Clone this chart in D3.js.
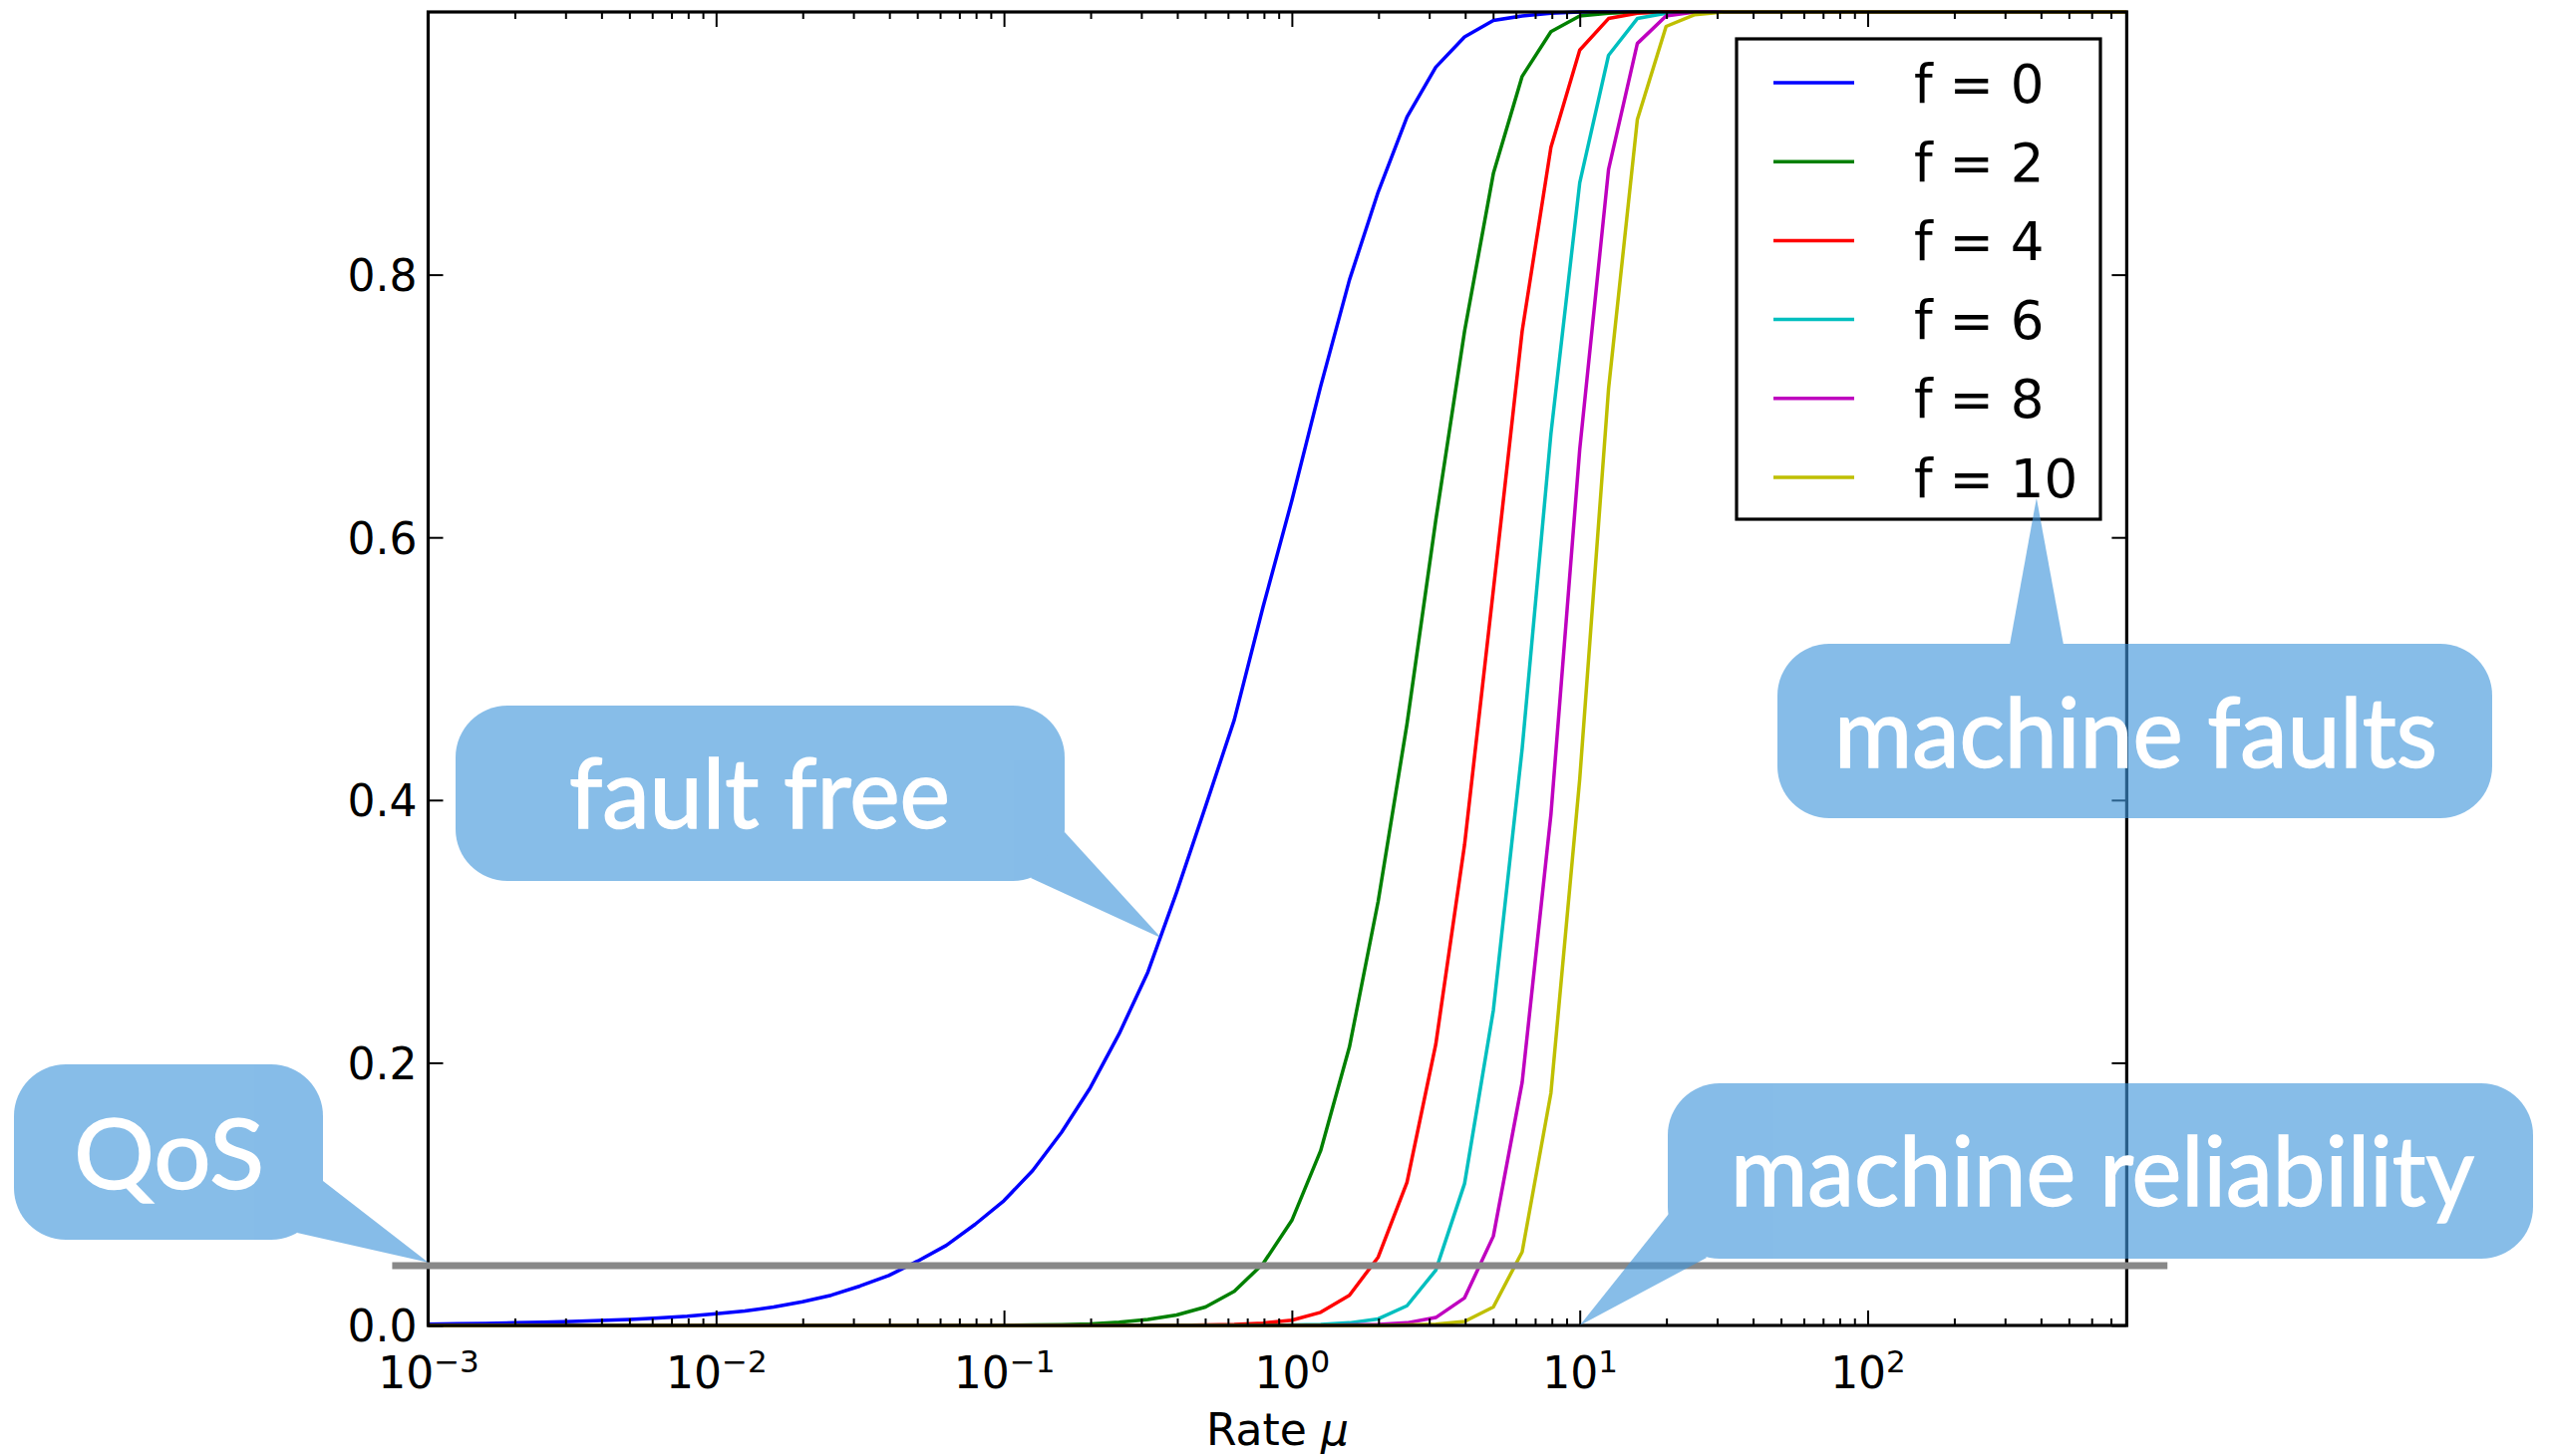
<!DOCTYPE html>
<html><head><meta charset="utf-8">
<script src="https://cdn.jsdelivr.net/npm/d3@7"></script>
<style>html,body{margin:0;padding:0;background:#fff;} svg{display:block;}</style>
</head><body>
<svg id="chart" width="2561" height="1461"></svg>
<script>
// ---------------- data ----------------
const rate = [0.001,0.001259,0.001585,0.001995,0.002512,0.003162,0.003981,0.005012,0.00631,0.007943,
  0.01,0.01259,0.01585,0.01995,0.02512,0.03162,0.03981,0.05012,0.0631,0.07943,
  0.1,0.1259,0.1585,0.1995,0.2512,0.3162,0.3981,0.5012,0.631,0.7943,
  1,1.259,1.585,1.995,2.512,3.162,3.981,5.012,6.31,7.943,
  10,12.59,15.85,19.95,25.12,31.62,39.81,50.12,63.1,79.43,
  100,125.9,158.5,199.5,251.2,316.2,398.1,501.2,631,794.3];

const f0 = [0.001,0.0013,0.0016,0.002,0.0025,0.003,0.0037,0.0046,0.0057,0.0071,
  0.009,0.011,0.014,0.018,0.023,0.030,0.038,0.049,0.061,0.077,
  0.095,0.118,0.147,0.181,0.222,0.269,0.330,0.395,0.461,0.547,
  0.628,0.715,0.796,0.863,0.920,0.958,0.981,0.9935,0.997,0.999,
  1,1,1,1,1,1,1,1,1,1, 1,1,1,1,1,1,1,1,1,1];
const f2 = [0,0,0,0,0,0,0,0,0,0, 0,0,0,0,0,0,0,0,0,0,
  0.0001,0.0003,0.0006,0.0012,0.0025,0.0045,0.008,0.014,0.026,0.047,
  0.080,0.133,0.212,0.323,0.458,0.613,0.757,0.877,0.951,0.985,
  0.997,0.999,1,1,1,1,1,1,1,1, 1,1,1,1,1,1,1,1,1,1];
const f4 = [0,0,0,0,0,0,0,0,0,0, 0,0,0,0,0,0,0,0,0,0,
  0,0,0,0,0,0,0,0.0003,0.0008,0.0018,
  0.004,0.010,0.023,0.052,0.109,0.214,0.366,0.560,0.757,0.897,
  0.971,0.995,0.999,1,1,1,1,1,1,1, 1,1,1,1,1,1,1,1,1,1];
const f6 = [0,0,0,0,0,0,0,0,0,0, 0,0,0,0,0,0,0,0,0,0,
  0,0,0,0,0,0,0,0,0,0,
  0.0003,0.0008,0.002,0.005,0.015,0.042,0.108,0.240,0.439,0.679,
  0.870,0.967,0.995,0.999,1,1,1,1,1,1, 1,1,1,1,1,1,1,1,1,1];
const f8 = [0,0,0,0,0,0,0,0,0,0, 0,0,0,0,0,0,0,0,0,0,
  0,0,0,0,0,0,0,0,0,0,
  0,0,0.0003,0.0008,0.002,0.006,0.021,0.068,0.185,0.389,
  0.667,0.880,0.976,0.997,1,1,1,1,1,1, 1,1,1,1,1,1,1,1,1,1];
const f10 = [0,0,0,0,0,0,0,0,0,0, 0,0,0,0,0,0,0,0,0,0,
  0,0,0,0,0,0,0,0,0,0,
  0,0,0,0,0.0003,0.001,0.003,0.014,0.056,0.177,
  0.416,0.713,0.918,0.989,0.998,1,1,1,1,1, 1,1,1,1,1,1,1,1,1,1];

const seriesNames = ["f = 0","f = 2","f = 4","f = 6","f = 8","f = 10"];
const seriesValues = [f0,f2,f4,f6,f8,f10];
const seriesColors = ["#0000ff","#008000","#ff0000","#00bfbf","#bf00bf","#bfbf00"];

const yTicks = [0,0.2,0.4,0.6,0.8];
const yTickLabels = ["0.0","0.2","0.4","0.6","0.8"];
const xMajorTicks = [0.001,0.01,0.1,1,10,100];
const xTickExponents = ["\u22123","\u22122","\u22121","0","1","2"];
const xMinorMultipliers = [2,3,4,5,6,7,8,9];

const qosLevel = 0.0455;
const qosExtent = [0.00075, 1100];

const calloutTexts = ["fault free","QoS","machine reliability","machine faults"];
const calloutTips = [{x:0.352,y:0.295},{x:0.001,y:0.048},{x:10,y:0},{x:386,y:0.63}];

// ---------------- layout ----------------
const svg = d3.select("#chart");
const L = 429.5, R = 2133.4, T = 12, B = 1330;
const x = d3.scaleLog().domain([0.001, 794.3]).range([L, R]);
const y = d3.scaleLinear().domain([0, 1]).range([B, T]);

svg.append("rect").attr("width",2561).attr("height",1461).attr("fill","#fff");

// curves
const clip = svg.append("clipPath").attr("id","plotclip");
clip.append("rect").attr("x",L).attr("y",T-4).attr("width",R-L).attr("height",B-T+6);
const line = d3.line().x((d,i)=>x(rate[i])).y(d=>y(d));
const gCurves = svg.append("g").attr("clip-path","url(#plotclip)");
seriesValues.forEach((vals,si)=>{
  gCurves.append("path").attr("d", line(vals)).attr("fill","none")
    .attr("stroke", seriesColors[si]).attr("stroke-width",3.5).attr("stroke-linejoin","round");
});

// minor ticks
const minorTicks = [];
xMajorTicks.forEach(d=>xMinorMultipliers.forEach(m=>{ const v=m*d; if (v < 794.3) minorTicks.push(v); }));

function styleAxis(g){
  g.select(".domain").remove();
  g.selectAll(".tick line").attr("stroke","#000").attr("stroke-width",2);
}
// bottom
svg.append("g").attr("transform",`translate(0,${B})`)
  .call(d3.axisBottom(x).tickValues(minorTicks).tickSize(-7).tickFormat("")).call(styleAxis);
const gxb = svg.append("g").attr("transform",`translate(0,${B})`)
  .call(d3.axisBottom(x).tickValues(xMajorTicks).tickSize(-15).tickPadding(63).tickFormat(()=>"")).call(styleAxis);
gxb.selectAll(".tick text").each(function(d,i){
  const t = d3.select(this);
  t.attr("dy",null).attr("y",63).attr("font-family","'DejaVu Sans'").attr("font-size",44).attr("fill","#000").attr("text-anchor","middle");
  t.text("10");
  t.append("tspan").attr("dy",-16).attr("font-size",31).text(xTickExponents[xMajorTicks.indexOf(d)]);
});
// top
svg.append("g").attr("transform",`translate(0,${T})`)
  .call(d3.axisTop(x).tickValues(minorTicks).tickSize(-7).tickFormat("")).call(styleAxis);
svg.append("g").attr("transform",`translate(0,${T})`)
  .call(d3.axisTop(x).tickValues(xMajorTicks).tickSize(-15).tickFormat("")).call(styleAxis);
// left
const gyl = svg.append("g").attr("transform",`translate(${L},0)`)
  .call(d3.axisLeft(y).tickValues(yTicks).tickSize(-15).tickPadding(11).tickFormat((d,i)=>yTickLabels[i])).call(styleAxis);
gyl.selectAll(".tick text").attr("font-family","'DejaVu Sans'").attr("font-size",44).attr("fill","#000").attr("dy","0.36em");
// right
svg.append("g").attr("transform",`translate(${R},0)`)
  .call(d3.axisRight(y).tickValues(yTicks).tickSize(-15).tickFormat("")).call(styleAxis);

// spines
svg.append("rect").attr("x",L).attr("y",T).attr("width",R-L).attr("height",B-T)
  .attr("fill","none").attr("stroke","#000").attr("stroke-width",3.2);

// x label
const xl = svg.append("text").attr("x",(L+R)/2).attr("y",1450).attr("text-anchor","middle")
  .attr("font-family","'DejaVu Sans'").attr("font-size",44).attr("fill","#000");
xl.append("tspan").text("Rate ");
xl.append("tspan").attr("font-style","italic").text("\u03bc");

// legend
const lg = svg.append("g");
lg.append("rect").attr("x",1742).attr("y",39).attr("width",365).attr("height",482)
  .attr("fill","#fff").attr("stroke","#000").attr("stroke-width",3.2);
seriesNames.forEach((n,i)=>{
  const yy = 83 + i*79.2;
  lg.append("line").attr("x1",1779).attr("x2",1860).attr("y1",yy).attr("y2",yy)
    .attr("stroke",seriesColors[i]).attr("stroke-width",3.5);
  lg.append("text").attr("x",1920).attr("y",yy+19.5).attr("font-family","'DejaVu Sans'")
    .attr("font-size",53).attr("fill","#000").text(n);
});

// QoS line
svg.append("line").attr("x1",x(qosExtent[0])).attr("x2",x(qosExtent[1]))
  .attr("y1",y(qosLevel)).attr("y2",y(qosLevel)).attr("stroke","#888888").attr("stroke-width",7);

// callouts
const calloutBoxes = [
  {x0:457,y0:708,x1:1068,y1:884, tailA:[1068,835], tailB:[1034,881], tx:571, tw:382, base:831},
  {x0:14,y0:1068,x1:324,y1:1244, tailA:[324,1185], tailB:[298,1237], tx:74, tw:191, base:1193},
  {x0:1673,y0:1087,x1:2541,y1:1263, tailA:[1674,1218], tailB:[1712,1262], tx:1736, tw:746, base:1210},
  {x0:1783,y0:646,x1:2500,y1:821, tailA:[2016,647], tailB:[2070,647], tx:1840, tw:605, base:770}
];
calloutBoxes.forEach((b,i)=>{
  const g = svg.append("g").attr("opacity",0.63);
  g.append("rect").attr("x",b.x0).attr("y",b.y0).attr("width",b.x1-b.x0).attr("height",b.y1-b.y0)
    .attr("rx",52).attr("ry",52).attr("fill","#4196db");
  const tip = [x(calloutTips[i].x), y(calloutTips[i].y)];
  g.append("path").attr("d", d3.line()([b.tailA, tip, b.tailB]) + "Z").attr("fill","#4196db");
  svg.append("text").attr("x",b.tx).attr("y",b.base).attr("font-family","Lato").attr("font-weight",400)
    .attr("font-size",96).attr("fill","#fff").attr("stroke","#fff").attr("stroke-width",1.5)
    .attr("textLength",b.tw).attr("lengthAdjust","spacingAndGlyphs")
    .text(calloutTexts[i]);
});
</script>
</body></html>
